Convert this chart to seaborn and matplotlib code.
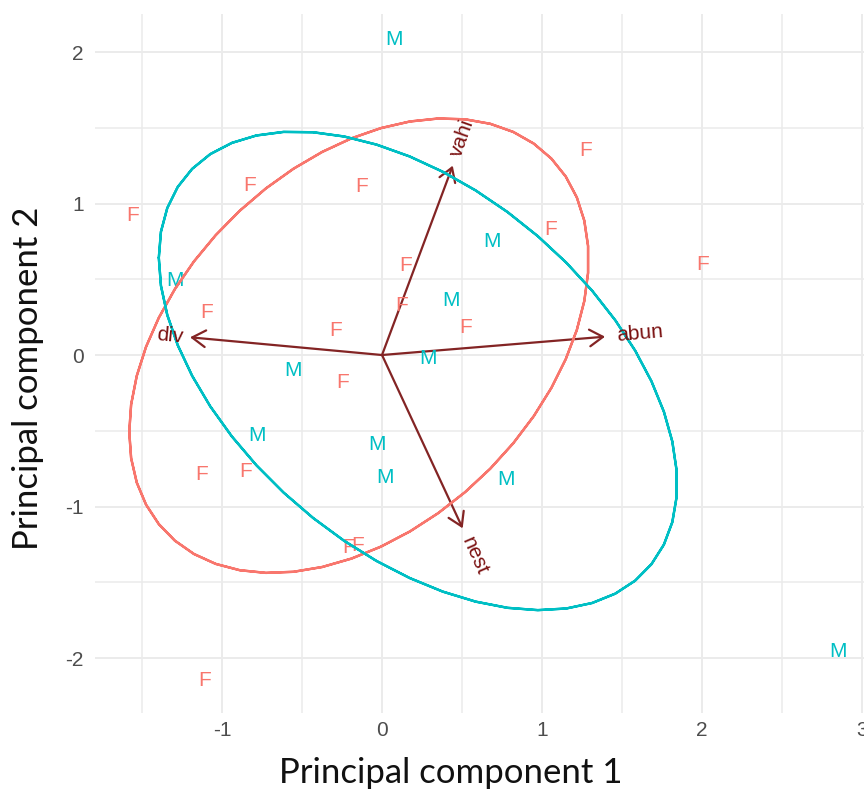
import numpy as np
import pandas as pd
import matplotlib
matplotlib.use("Agg")
import matplotlib.pyplot as plt
import seaborn as sns

# ---- data ----
sex = ["M", "F", "F", "F", "F", "M", "F", "F", "M", "F", "M", "F", "F", "F",
       "F", "M", "M", "F", "M", "M", "F", "F", "M", "M", "F", "F", "F", "M"]
pc1 = [0.075, 1.275, -0.825, -0.13, -1.556, 0.69, 1.056, 2.006, -1.294, 0.15,
       0.43, 0.12, -1.094, -0.29, 0.52, 0.29, -0.556, -0.244, -0.78, -0.03,
       -1.13, -0.85, 0.02, 0.775, -0.21, -0.15, -1.106, 2.85]
pc2 = [2.08, 1.35, 1.12, 1.11, 0.92, 0.75, 0.83, 0.60, 0.49, 0.59,
       0.36, 0.33, 0.28, 0.16, 0.18, -0.02, -0.10, -0.18, -0.53, -0.59,
       -0.79, -0.77, -0.81, -0.82, -1.27, -1.26, -2.15, -1.96]

var_names = ["div", "abun", "vahi", "nest"]
var_pc1 = [-1.20, 1.394, 0.442, 0.504]
var_pc2 = [0.117, 0.121, 1.25, -1.144]

x_ticks = [-1, 0, 1, 2, 3]
y_ticks = [-2, -1, 0, 1, 2]

palette = {"F": "#F8766D", "M": "#00BFC4"}
arrow_col = "#832424"
varlab_col = "#7A1010"

df = pd.DataFrame({"sex": sex, "pc1": pc1, "pc2": pc2})

# ---- ellipses (68% normal-data ellipse per group, as ggbiplot) ----
theta = np.concatenate([np.linspace(-np.pi, np.pi, 50), np.linspace(np.pi, -np.pi, 50)])
circle = np.column_stack([np.cos(theta), np.sin(theta)])
ed = np.sqrt(-2 * np.log(1 - 0.68))
ell_parts = []
for g, sub in df.groupby("sex"):
    xy = sub[["pc1", "pc2"]].to_numpy()
    sigma = np.cov(xy, rowvar=False)
    mu = xy.mean(axis=0)
    L = np.linalg.cholesky(sigma)
    pts = circle @ L.T * ed + mu
    ell_parts.append(pd.DataFrame({"pc1": pts[:, 0], "pc2": pts[:, 1], "sex": g}))
ell = pd.concat(ell_parts, ignore_index=True)

# ---- figure ----
sns.set_theme(style="white")
plt.rcParams["font.family"] = ["Liberation Sans", "DejaVu Sans"]
DPI = 100
fig = plt.figure(figsize=(8.64, 7.93), dpi=DPI)
ax = fig.add_axes([95 / 864, 1 - 713 / 793, 1 - 95 / 864, (713 - 14) / 793])

# arrows
for name, vx, vy in zip(var_names, var_pc1, var_pc2):
    ax.annotate("", xy=(vx, vy), xytext=(0, 0),
                arrowprops=dict(arrowstyle="->, head_length=0.4, head_width=0.25",
                                mutation_scale=24, color=arrow_col, lw=1.6,
                                shrinkA=0, shrinkB=0), zorder=2)

# point labels
for s_, x_, y_ in zip(sex, pc1, pc2):
    ax.text(x_, y_, s_, color=palette[s_], fontsize=15, ha="center", va="center",
            zorder=3)

# ellipses
sns.lineplot(data=ell, x="pc1", y="pc2", hue="sex", units="sex", estimator=None,
             sort=False, palette=palette, linewidth=1.7, legend=False, ax=ax, zorder=4)

# axes setup (after plotting so limits stay fixed)
ax.set_xticks(x_ticks)
ax.set_yticks(y_ticks)
ax.set_xticks([-1.5, -0.5, 0.5, 1.5, 2.5], minor=True)
ax.set_yticks([-1.5, -0.5, 0.5, 1.5], minor=True)
ax.set_xticklabels([str(t) for t in x_ticks])
ax.set_yticklabels([str(t) for t in y_ticks])
ax.set_xlim(-1.794, 3.0125)
ax.set_ylim(-2.363, 2.251)
ax.grid(which="major", color="#EBEBEB", linewidth=1.4, zorder=0)
ax.grid(which="minor", color="#EBEBEB", linewidth=1.1, zorder=0)
ax.set_axisbelow(True)
for s in ax.spines.values():
    s.set_visible(False)
ax.tick_params(axis="both", which="both", length=0, labelsize=15, labelcolor="#4D4D4D")
ax.tick_params(axis="x", pad=6)
ax.tick_params(axis="y", pad=8)
ax.set_xlabel("")
ax.set_ylabel("")

# variable labels (hjust = -0.25 / 1.25 like ggbiplot)
renderer = fig.canvas.get_renderer()
for name, vx, vy in zip(var_names, var_pc1, var_pc2):
    ang = np.degrees(np.arctan(vy / vx))
    tmp = ax.text(0, 0, name, fontsize=15)
    w = tmp.get_window_extent(renderer).width * 72 / DPI
    tmp.remove()
    sgn = np.sign(vx)
    off = 0.25 * w
    dx = sgn * off * np.cos(np.radians(ang))
    dy = sgn * off * np.sin(np.radians(ang))
    ax.annotate(name, (vx, vy), xytext=(dx, dy), textcoords="offset points",
                rotation=ang, rotation_mode="anchor",
                ha="left" if sgn > 0 else "right", va="center",
                color=varlab_col, fontsize=15, zorder=5)

fig.text(451 / 864, 1 - 783 / 793, "Principal component 1", family="Lato",
         fontsize=25, color="#111111", ha="center", va="baseline")
fig.text(38 / 864, 1 - 378 / 793, "Principal component 2", family="Lato",
         fontsize=25, color="#111111", ha="center", va="baseline", rotation=90,
         rotation_mode="anchor")

fig.savefig("out.png", dpi=DPI)
